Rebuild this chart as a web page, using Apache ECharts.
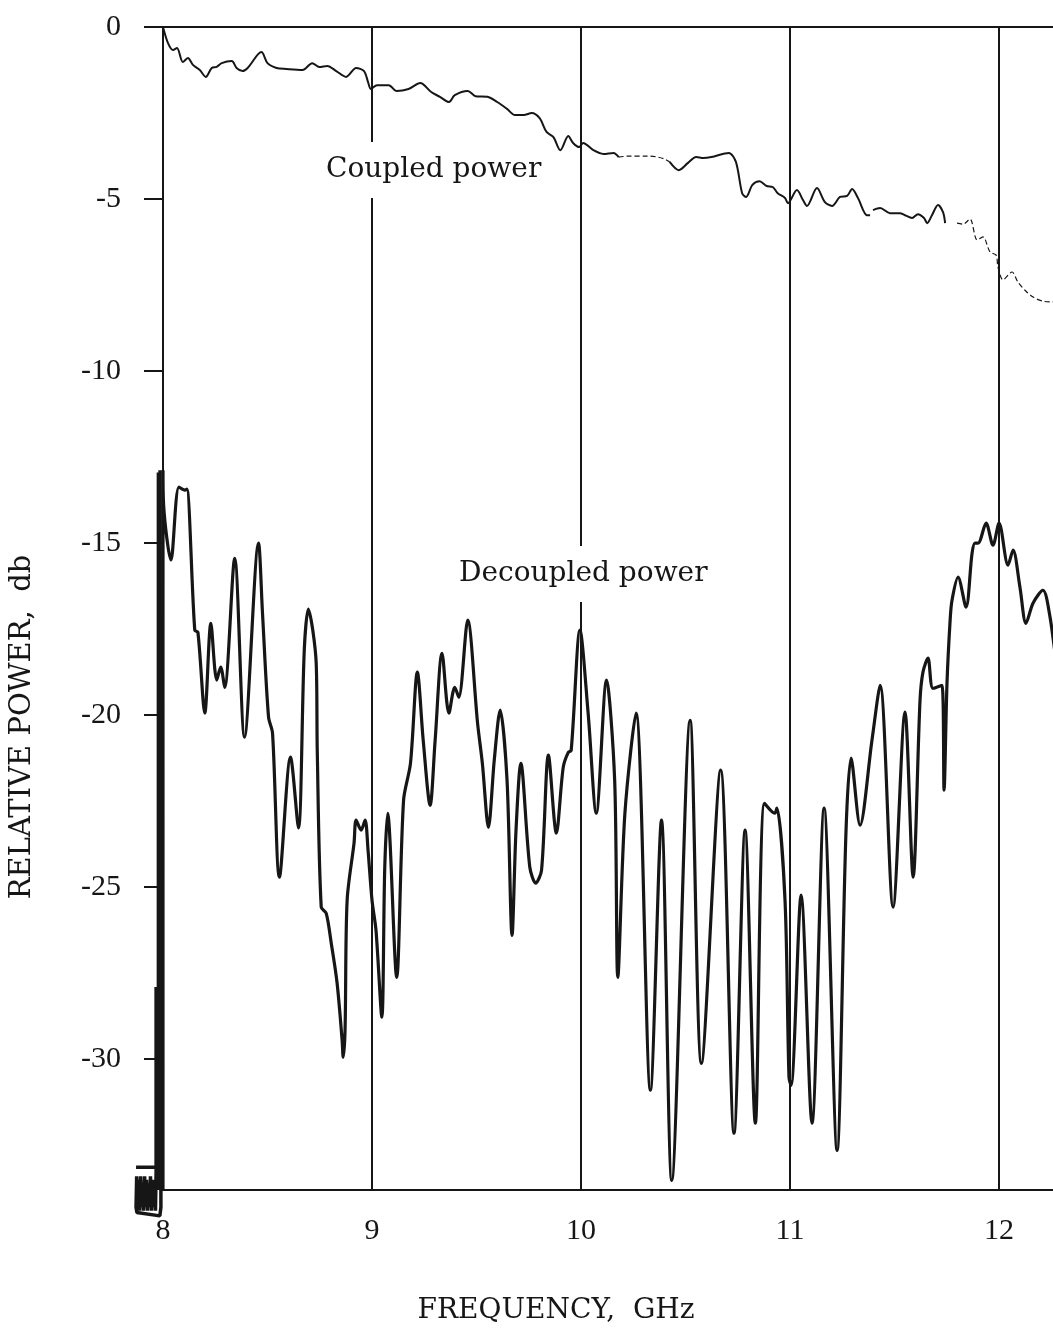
<!DOCTYPE html>
<html>
<head>
<meta charset="utf-8">
<title>Relative power vs frequency</title>
<script src="https://cdn.jsdelivr.net/npm/echarts@6/dist/echarts.min.js"></script>
<style>
  html, body { margin: 0; padding: 0; background: #ffffff; }
  #chart { width: 1053px; height: 1330px; }
</style>
</head>
<body>
<div id="chart"></div>
<script>
// Frequency (GHz) and relative power (dB) tick values
const freqTicks = [8, 9, 10, 11, 12];
const dbTicks = [0, -5, -10, -15, -20, -25, -30];

// Coupled power, [GHz, dB]; solid stretches and faint (dashed) stretches of the trace
const coupledA = [
  [8.0, 0.0], [8.024, -0.47], [8.048, -0.67], [8.067, -0.61], [8.095, -1.02], [8.119, -0.9],
  [8.143, -1.1], [8.176, -1.25], [8.205, -1.45], [8.233, -1.19], [8.257, -1.16], [8.281, -1.05],
  [8.329, -0.99], [8.352, -1.19], [8.381, -1.28], [8.405, -1.19], [8.471, -0.73], [8.5, -1.05],
  [8.543, -1.19], [8.59, -1.22], [8.667, -1.25], [8.714, -1.05], [8.748, -1.16], [8.786, -1.13],
  [8.829, -1.28], [8.876, -1.45], [8.924, -1.19], [8.962, -1.28], [8.981, -1.6], [8.995, -1.8],
  [9.024, -1.69], [9.08, -1.69], [9.118, -1.86], [9.175, -1.8], [9.231, -1.63], [9.283, -1.89],
  [9.325, -2.03], [9.368, -2.18], [9.396, -1.98], [9.458, -1.86], [9.495, -2.01], [9.552, -2.03],
  [9.599, -2.18], [9.646, -2.38], [9.684, -2.56], [9.726, -2.56], [9.764, -2.5], [9.802, -2.65],
  [9.835, -3.05], [9.868, -3.2], [9.901, -3.58], [9.939, -3.17], [9.962, -3.37], [9.991, -3.49],
  [10.01, -3.37], [10.059, -3.58], [10.107, -3.69], [10.156, -3.66], [10.18, -3.78]
];
const coupledFaintA = [
  [10.18, -3.78], [10.234, -3.75], [10.317, -3.75], [10.366, -3.78], [10.4, -3.84], [10.424, -3.92]
];
const coupledB = [
  [10.424, -3.92], [10.468, -4.16], [10.512, -3.95], [10.551, -3.78], [10.585, -3.81], [10.624, -3.78],
  [10.707, -3.66], [10.741, -3.92], [10.771, -4.83], [10.79, -4.94], [10.82, -4.59], [10.854, -4.48],
  [10.888, -4.62], [10.917, -4.65], [10.941, -4.83], [10.976, -4.97], [10.99, -5.12], [11.033, -4.74],
  [11.062, -5.03], [11.081, -5.2], [11.129, -4.68], [11.167, -5.09], [11.201, -5.2], [11.239, -4.94],
  [11.273, -4.91], [11.297, -4.71], [11.325, -4.97], [11.368, -5.47], [11.383, -5.47]
];
const coupledC = [
  [11.397, -5.32], [11.431, -5.26], [11.478, -5.41], [11.526, -5.41], [11.55, -5.47], [11.584, -5.55],
  [11.612, -5.44], [11.641, -5.55], [11.656, -5.7], [11.679, -5.47], [11.708, -5.17], [11.732, -5.38],
  [11.742, -5.7]
];
const coupledFaintB = [
  [11.799, -5.7], [11.828, -5.73], [11.861, -5.58], [11.895, -6.19], [11.923, -6.1], [11.957, -6.54],
  [11.986, -6.63], [11.995, -6.98], [12.019, -7.35], [12.062, -7.12], [12.09, -7.41], [12.124, -7.65],
  [12.163, -7.85], [12.211, -7.97], [12.258, -7.99], [12.3, -7.99]
];

// Decoupled power, [GHz, dB]
const decoupled = [
  [8.0, -33.8], [8.0, -12.88], [8.003, -13.9], [8.038, -15.49], [8.076, -13.37], [8.105, -13.46],
  [8.114, -13.43], [8.152, -17.53], [8.167, -17.59], [8.2, -19.94], [8.229, -17.33], [8.257, -18.98],
  [8.276, -18.6], [8.295, -19.19], [8.343, -15.44], [8.39, -20.64], [8.457, -15.0], [8.476, -17.03],
  [8.505, -20.06], [8.524, -20.52], [8.557, -24.71], [8.61, -21.22], [8.648, -23.28], [8.676, -18.1],
  [8.695, -16.92], [8.733, -18.49], [8.738, -21.02], [8.757, -25.58], [8.781, -25.76], [8.805, -26.63],
  [8.833, -27.79], [8.857, -29.45], [8.862, -29.94], [8.871, -29.16], [8.881, -25.38], [8.914, -23.72],
  [8.924, -23.05], [8.948, -23.34], [8.967, -23.05], [8.981, -23.92], [9.0, -25.38], [9.019, -26.25],
  [9.047, -28.78], [9.061, -24.42], [9.075, -22.85], [9.118, -27.62], [9.151, -22.47], [9.184, -21.4],
  [9.217, -18.75], [9.245, -20.73], [9.278, -22.62], [9.302, -20.73], [9.335, -18.2], [9.368, -19.94],
  [9.396, -19.19], [9.415, -19.48], [9.458, -17.24], [9.505, -20.23], [9.528, -21.4], [9.557, -23.26],
  [9.585, -21.3], [9.613, -19.85], [9.646, -21.89], [9.67, -26.4], [9.689, -23.34], [9.712, -21.4],
  [9.755, -24.42], [9.783, -24.88], [9.811, -24.51], [9.844, -21.16], [9.882, -23.43], [9.915, -21.51],
  [9.939, -21.08], [9.953, -21.02], [9.995, -17.53], [10.034, -19.94], [10.073, -22.85], [10.122, -18.98],
  [10.161, -21.89], [10.176, -27.62], [10.21, -22.85], [10.263, -19.94], [10.332, -30.9], [10.385, -23.05],
  [10.434, -33.52], [10.522, -20.15], [10.576, -30.12], [10.668, -21.6], [10.732, -32.15], [10.785, -23.34],
  [10.834, -31.86], [10.878, -22.56], [10.927, -22.85], [10.937, -22.7], [10.976, -25.38], [10.995, -30.52],
  [11.005, -30.76], [11.053, -25.23], [11.105, -31.86], [11.163, -22.7], [11.225, -32.65], [11.268, -23.34],
  [11.292, -21.25], [11.335, -23.2], [11.392, -20.73], [11.431, -19.13], [11.493, -25.58], [11.55, -19.91],
  [11.589, -24.71], [11.622, -19.56], [11.636, -18.75], [11.66, -18.34], [11.684, -19.22], [11.727, -19.13],
  [11.737, -22.18], [11.751, -19.07], [11.766, -17.24], [11.775, -16.66], [11.804, -15.99], [11.842, -16.86],
  [11.871, -15.29], [11.885, -15.0], [11.9, -15.0], [11.938, -14.42], [11.971, -15.06], [12.0, -14.42],
  [12.043, -15.64], [12.067, -15.2], [12.1, -16.28], [12.129, -17.33], [12.163, -16.74], [12.21, -16.37],
  [12.244, -17.15], [12.272, -18.4]
];

// Pen settling marks at the start of the sweep, just left of 8 GHz
const traceStart = [
  [7.978, -33.8], [7.978, -12.95], [7.986, -33.8], [7.986, -12.88], [7.99, -33.8],
  [7.99, -34.3], [7.985, -34.55], [7.875, -34.45], [7.871, -34.3], [7.874, -33.4], [7.879, -34.3],
  [7.883, -33.5], [7.888, -34.4], [7.893, -33.4], [7.898, -34.3], [7.902, -33.6], [7.907, -34.4],
  [7.912, -33.4], [7.917, -34.3], [7.921, -33.5], [7.926, -34.4], [7.931, -33.6], [7.936, -34.3],
  [7.94, -33.4], [7.945, -34.4], [7.95, -33.5], [7.955, -34.3], [7.96, -33.6], [7.964, -34.4],
  [7.967, -33.3], [7.967, -27.9], [7.967, -33.14], [7.871, -33.14]
];

const INK = '#161616';
const chart = echarts.init(document.getElementById('chart'), null, { renderer: 'canvas' });

function trace(data, width, dashed, axisIndex) {
  return {
    type: 'line',
    data: data,
    xAxisIndex: axisIndex || 0,
    yAxisIndex: axisIndex || 0,
    showSymbol: false,
    symbol: 'none',
    smooth: 0.3,
    clip: false,
    lineStyle: { color: INK, width: width, type: dashed ? [5, 3] : 'solid' },
    silent: true,
    z: 3
  };
}

chart.setOption({
  animation: false,
  backgroundColor: '#ffffff',
  grid: [
    {
      left: 163, top: 27, width: 900, height: 1163,
      outerBoundsMode: 'none', containLabel: false,
      show: true, borderColor: INK, borderWidth: 2, backgroundColor: 'transparent'
    },
    // narrow strip left of 8 GHz and a little below the axis, for the start of the sweep
    { left: 130, top: 27, width: 35, height: 1203, outerBoundsMode: 'none', containLabel: false, show: false }
  ],
  xAxis: [
    {
      type: 'value', gridIndex: 0,
      min: 8, max: 12.306, interval: 1,
      axisLine: { show: true, lineStyle: { color: INK, width: 2 } },
      axisTick: { show: false },
      axisLabel: {
        customValues: freqTicks,
        margin: 26,
        color: INK,
        fontFamily: 'Liberation Serif',
        fontSize: 30
      },
      splitLine: { show: true, lineStyle: { color: INK, width: 2 } }
    },
    {
      type: 'value', gridIndex: 1, min: 7.8421, max: 8.0096, show: false,
      splitLine: { show: false }
    }
  ],
  yAxis: [
    {
      type: 'value', gridIndex: 0,
      min: -33.8, max: 0,
      axisLine: { show: true, lineStyle: { color: INK, width: 2 } },
      axisTick: { show: true, customValues: dbTicks, length: 19, lineStyle: { color: INK, width: 2 } },
      axisLabel: {
        customValues: dbTicks,
        margin: 42,
        color: INK,
        fontFamily: 'Liberation Serif',
        fontSize: 30
      },
      splitLine: { show: false }
    },
    {
      type: 'value', gridIndex: 1, min: -34.96, max: 0, show: false,
      splitLine: { show: false }
    }
  ],
  series: [
    trace(coupledA, 2, false),
    trace(coupledFaintA, 1.2, true),
    trace(coupledB, 2, false),
    trace(coupledC, 2, false),
    trace(coupledFaintB, 1.2, true),
    trace(decoupled, 3.2, false),
    Object.assign(trace(traceStart, 3.5, false, 1), { smooth: false })
  ],
  graphic: [
    {
      type: 'text', x: 322, y: 170, z: 10,
      style: {
        text: 'Coupled power', fill: INK, font: '28px "DejaVu Serif"',
        verticalAlign: 'middle', backgroundColor: '#ffffff', padding: [14, 4]
      }
    },
    {
      type: 'text', x: 455, y: 574, z: 10,
      style: {
        text: 'Decoupled power', fill: INK, font: '28px "DejaVu Serif"',
        verticalAlign: 'middle', backgroundColor: '#ffffff', padding: [14, 4]
      }
    },
    {
      type: 'text', x: 556, y: 1311, z: 10,
      style: {
        text: 'FREQUENCY,  GHz', fill: INK, font: '28px "DejaVu Serif"',
        align: 'center', verticalAlign: 'middle'
      }
    },
    {
      type: 'text', x: 22, y: 727, z: 10, rotation: Math.PI / 2,
      style: {
        text: 'RELATIVE POWER,  db', fill: INK, font: '29px "DejaVu Serif"',
        align: 'center', verticalAlign: 'middle'
      }
    }
  ]
});
</script>
</body>
</html>
